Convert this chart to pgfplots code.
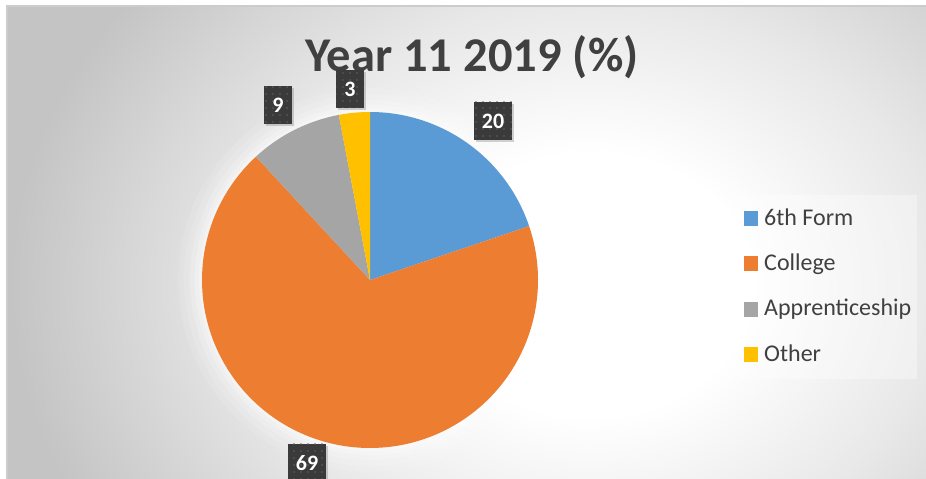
\documentclass[border=0pt]{standalone}
\usepackage{pgfplots}
\pgfplotsset{compat=1.18}
\usepackage{fontspec}
\setmainfont{Carlito}
\usetikzlibrary{patterns.meta,shadows}
\definecolor{cA}{HTML}{5B9BD5}
\definecolor{cB}{HTML}{ED7D31}
\definecolor{cC}{HTML}{A5A5A5}
\definecolor{cD}{HTML}{FFC000}
\definecolor{txt}{HTML}{404040}
\definecolor{lblc}{HTML}{3A3A3A}
\definecolor{bgout}{HTML}{C4C4C4}
\definecolor{bgmid}{HTML}{E8E8E8}
\pgfdeclareradialshading{bgshade}{\pgfpoint{0bp}{0bp}}{color(0bp)=(white); color(7bp)=(white); color(15bp)=(bgmid); color(25bp)=(bgout); color(50bp)=(bgout)}
% data (percent)
\def\vA{20}% 6th Form
\def\vB{69}% College
\def\vC{9}%  Apprenticeship
\def\vD{3}%  Other
\pgfmathsetmacro\tot{\vA+\vB+\vC+\vD}
\pgfmathsetmacro\unit{360/\tot}
\pgfmathsetmacro\aA{90}
\pgfmathsetmacro\aB{\aA-\unit*\vA}
\pgfmathsetmacro\aC{\aB-\unit*\vB}
\pgfmathsetmacro\aD{\aC-\unit*\vC}
\pgfmathsetmacro\aE{\aD-\unit*\vD}
\def\cx{370}\def\cy{199}\def\R{168}
\begin{document}
\begin{tikzpicture}[x=1pt,y=1pt,
  lbl/.style={fill=lblc, text=white, font=\fontsize{22}{26}\selectfont\bfseries,
    inner xsep=8pt, inner ysep=0pt, minimum height=38pt, text height=15pt, text depth=0pt,
    drop shadow={shadow xshift=2pt, shadow yshift=-2pt, opacity=0.35},
    postaction={pattern={Dots[distance=7pt,radius=0.9pt]}, pattern color=gray!75!black}}]
\useasboundingbox (0,0) rectangle (926,479);
\clip (0,0) rectangle (926,479);
\fill[white] (0,0) rectangle (926,479);
\begin{scope}
  \clip (7,-10) rectangle (940,473);
  \fill[bgout] (7,-10) rectangle (940,473);
  \shade[shading=bgshade] (590,194) ellipse (580 and 470);
\end{scope}
\draw[gray!40, line width=1.2pt] (7,-10) rectangle (940,473);
% soft halo round the pie
\foreach \r/\o in {192/0.1,186/0.13,180/0.17,175/0.22,171/0.28}{
  \fill[white, opacity=\o] (\cx,\cy) circle (\r);
}
\node[anchor=base, font=\fontsize{48.5}{54}\selectfont\bfseries, text=txt] at (472,407) {Year 11 2019 (\%)};
\begin{axis}[
  width=926pt, height=479pt, scale only axis,
  xmin=0, xmax=926, ymin=0, ymax=479,
  hide axis, at={(0,0)}, anchor=south west,
  legend image code/.code={\fill[#1, fill opacity=1] (0pt,-7pt) rectangle (14pt,8pt);},
  legend cell align=left,
  legend style={at={(0.797,0.593)}, anchor=north west, draw=none,
    fill=white, fill opacity=0.35, text opacity=1,
    font=\fontsize{24}{28}\selectfont, text=txt,
    inner xsep=6pt, inner ysep=13pt, row sep=23.3pt,
    nodes={inner sep=0pt, text height=17pt, text depth=5pt},
    /tikz/every odd column/.append style={column sep=6pt}},
]
\addplot[fill=cA, draw=none, domain=\aB:\aA, samples=60, variable=\t]
  ({\cx+\R*cos(\t)}, {\cy+\R*sin(\t)}) -- (\cx,\cy) -- cycle;
\addlegendentry{6th Form}
\addplot[fill=cB, draw=none, domain=\aC:\aB, samples=160, variable=\t]
  ({\cx+\R*cos(\t)}, {\cy+\R*sin(\t)}) -- (\cx,\cy) -- cycle;
\addlegendentry{College}
\addplot[fill=cC, draw=none, domain=\aD:\aC, samples=30, variable=\t]
  ({\cx+\R*cos(\t)}, {\cy+\R*sin(\t)}) -- (\cx,\cy) -- cycle;
\addlegendentry{Apprenticeship}
\addplot[fill=cD, draw=none, domain=\aE:\aD, samples=12, variable=\t]
  ({\cx+\R*cos(\t)}, {\cy+\R*sin(\t)}) -- (\cx,\cy) -- cycle;
\addlegendentry{Other}
\node[lbl] at (493,358) {\vA};
\node[lbl] at (307,16) {\vB};
\node[lbl] at (278,374) {\vC};
\node[lbl] at (350,390) {\vD};
\end{axis}
\end{tikzpicture}
\end{document}
